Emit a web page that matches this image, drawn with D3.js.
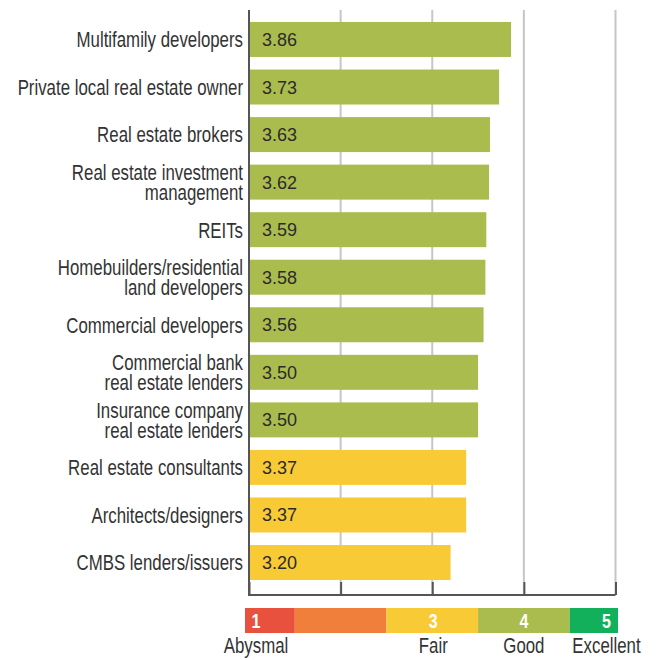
<!DOCTYPE html>
<html><head><meta charset="utf-8">
<script src="https://cdn.jsdelivr.net/npm/d3@7"></script>
<style>body{margin:0;background:#fff}</style>
</head><body>
<script>
const categories = [
  ["Multifamily developers"],
  ["Private local real estate owner"],
  ["Real estate brokers"],
  ["Real estate investment", "management"],
  ["REITs"],
  ["Homebuilders/residential", "land developers"],
  ["Commercial developers"],
  ["Commercial bank", "real estate lenders"],
  ["Insurance company", "real estate lenders"],
  ["Real estate consultants"],
  ["Architects/designers"],
  ["CMBS lenders/issuers"]
];
const values = [3.86, 3.73, 3.63, 3.62, 3.59, 3.58, 3.56, 3.50, 3.50, 3.37, 3.37, 3.20];
const ticks = [1, 2, 3, 4, 5];
const scaleNums = ["1", "", "3", "4", "5"];
const scaleLabels = ["Abysmal", "", "Fair", "Good", "Excellent"];
const scaleColors = ["#e9513f", "#ef7f3a", "#f8ca36", "#abbc4f", "#13b05b"];

const W = 657, H = 660;
const svg = d3.select("body").append("svg").attr("width", W).attr("height", H);
const labelFont = "'Liberation Sans',Arial,sans-serif";
const SX = 0.765; // horizontal condensing of label font

const x = d3.scaleLinear().domain([1, 5]).range([249, 615.5]);
const y = d3.scaleBand().domain(d3.range(categories.length)).range([15.7, 586.3]).paddingInner(0.264).paddingOuter(0.132);

// gridlines
svg.append("g").selectAll("line").data(ticks.slice(1)).join("line")
  .attr("x1", d => x(d)).attr("x2", d => x(d))
  .attr("y1", 10).attr("y2", 595)
  .attr("stroke", "#c6c6c6").attr("stroke-width", 2);

// bars
const barColor = v => v >= 3.5 ? scaleColors[3] : scaleColors[2];
svg.append("g").selectAll("rect").data(values).join("rect")
  .attr("x", x(1)).attr("y", (d, i) => y(i))
  .attr("width", d => x(d) - x(1)).attr("height", y.bandwidth())
  .attr("fill", barColor);

// value labels
svg.append("g").selectAll("text").data(values).join("text")
  .attr("x", x(1) + 13).attr("y", (d, i) => y(i) + y.bandwidth() / 2)
  .attr("dy", "0.36em")
  .attr("font-family", "'Liberation Sans',Arial,sans-serif").attr("font-size", 18)
  .attr("fill", "#2b2b2b")
  .text(d => d.toFixed(2));

// bottom axis
const xAxis = d3.axisBottom(x).tickValues(ticks).tickSize(-13).tickFormat("");
const gx = svg.append("g").attr("transform", "translate(0,595)").call(xAxis);
gx.select(".domain").attr("stroke", "#555").attr("stroke-width", 2).attr("d", `M${x(1)},0H${x(5)}`);
gx.selectAll(".tick line").attr("stroke", "#555").attr("stroke-width", 2);

// left axis line
svg.append("line").attr("x1", x(1)).attr("x2", x(1)).attr("y1", 10).attr("y2", 596)
  .attr("stroke", "#555").attr("stroke-width", 2);

// category labels (condensed via horizontal scale)
const lg = svg.append("g").attr("transform", `scale(${SX},1)`);
categories.forEach((lines, i) => {
  const cy = y(i) + y.bandwidth() / 2;
  const t = lg.append("text")
    .attr("text-anchor", "end")
    .attr("font-family", labelFont).attr("font-size", 22)
    .attr("fill", "#333");
  const n = lines.length;
  lines.forEach((s, j) => {
    t.append("tspan").attr("x", 243 / SX)
      .attr("y", cy + (j - (n - 1) / 2) * 20.5)
      .attr("dy", "0.36em").text(s);
  });
});

// legend scale bar
const segL = d => Math.max(x(d - 0.5), x(1) - 4);
const segR = d => Math.min(x(d + 0.5), x(5) + 2.5);
const leg = svg.append("g");
leg.selectAll("rect").data(ticks).join("rect")
  .attr("x", d => segL(d)).attr("width", d => segR(d) - segL(d))
  .attr("y", 608).attr("height", 25)
  .attr("fill", (d, i) => scaleColors[i]);
const numX = [x(1) + 7, x(2), x(3) + 1, x(4), x(5) - 9];
const legT = svg.append("g").attr("transform", `scale(${SX},1)`);
legT.selectAll("text.num").data(scaleNums).join("text").attr("class", "num")
  .attr("x", (d, i) => numX[i] / SX).attr("y", 628)
  .attr("text-anchor", "middle")
  .attr("font-family", labelFont).attr("font-weight", "bold").attr("font-size", 21)
  .attr("fill", "#fff").text(d => d);
legT.selectAll("text.lab").data(scaleLabels).join("text").attr("class", "lab")
  .attr("x", (d, i) => numX[i] / SX).attr("y", 653)
  .attr("text-anchor", "middle")
  .attr("font-family", labelFont).attr("font-size", 22)
  .attr("fill", "#333").text(d => d);
</script>
</body></html>
